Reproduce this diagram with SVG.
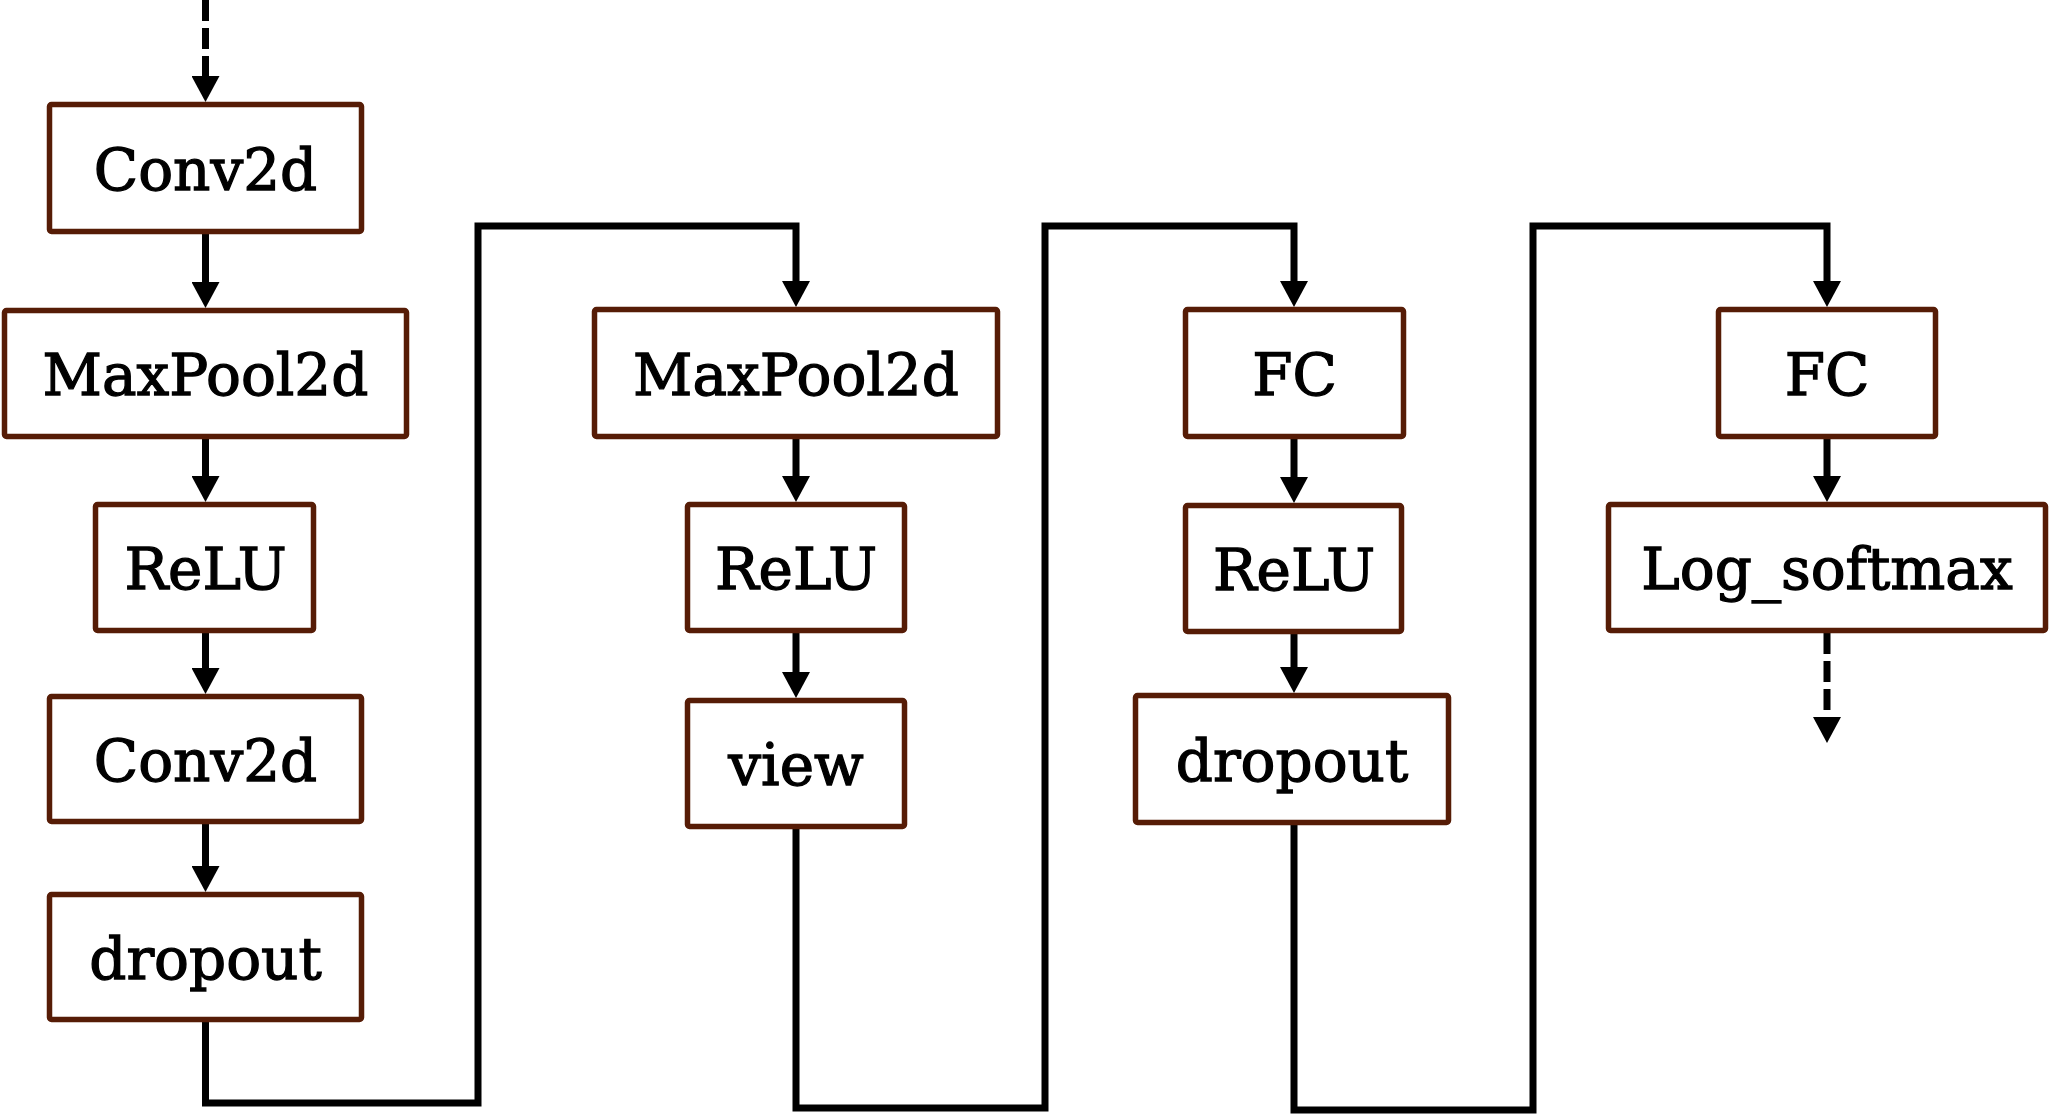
<svg xmlns="http://www.w3.org/2000/svg" width="2051" height="1115" viewBox="0 0 2051 1115">
  <style>
    .box { fill: #ffffff; stroke: #561c06; stroke-width: 5.5; }
    .lbl { font-family: "DejaVu Serif", "Liberation Serif", serif; font-size: 58px; fill: #000000; stroke: #000000; stroke-width: 1.3; text-anchor: middle; }
    .conn { fill: none; stroke: #000000; stroke-width: 7; stroke-linejoin: miter; }
    .dash { stroke-dasharray: 21 7; }
  </style>
  <defs>
    <marker id="arrow" viewBox="0 0 26 28" refX="0" refY="14" markerWidth="26" markerHeight="28" markerUnits="userSpaceOnUse" orient="auto">
      <path d="M0,0 L26,14 L0,28 Z" fill="#000000"/>
    </marker>
  </defs>
  <rect x="0" y="0" width="2051" height="1115" fill="#ffffff"/>

  <g id="connectors">
    <path class="conn dash" d="M205.5,0 V76" marker-end="url(#arrow)"/>
    <path class="conn" d="M205.5,234 V282" marker-end="url(#arrow)"/>
    <path class="conn" d="M205.5,439 V476" marker-end="url(#arrow)"/>
    <path class="conn" d="M205.5,633 V668" marker-end="url(#arrow)"/>
    <path class="conn" d="M205.5,824 V866" marker-end="url(#arrow)"/>
    <path class="conn" d="M205.5,1022 V1103 H478 V226 H796 V281" marker-end="url(#arrow)"/>
    <path class="conn" d="M796,439 V476" marker-end="url(#arrow)"/>
    <path class="conn" d="M796,633 V672" marker-end="url(#arrow)"/>
    <path class="conn" d="M796,829 V1108 H1045 V226 H1294 V281" marker-end="url(#arrow)"/>
    <path class="conn" d="M1294,439 V477" marker-end="url(#arrow)"/>
    <path class="conn" d="M1294,634 V667" marker-end="url(#arrow)"/>
    <path class="conn" d="M1294,825 V1110 H1533 V226 H1827 V281" marker-end="url(#arrow)"/>
    <path class="conn" d="M1827,439 V476" marker-end="url(#arrow)"/>
    <path class="conn dash" d="M1827,633 V717" marker-end="url(#arrow)"/>
  </g>

  <g id="conv2d-1">
    <rect class="box" x="49.5" y="104.5" width="312" height="127" rx="2"/>
    <text class="lbl" x="205.5" y="190">Conv2d</text>
  </g>
  <g id="maxpool2d-1">
    <rect class="box" x="4.5" y="310.5" width="402" height="126" rx="2"/>
    <text class="lbl" x="205.5" y="395">MaxPool2d</text>
  </g>
  <g id="relu-1">
    <rect class="box" x="95.5" y="504.5" width="218" height="126" rx="2"/>
    <text class="lbl" x="205.5" y="589">ReLU</text>
  </g>
  <g id="conv2d-2">
    <rect class="box" x="49.5" y="696.5" width="312" height="125" rx="2"/>
    <text class="lbl" x="205.5" y="781">Conv2d</text>
  </g>
  <g id="dropout-1">
    <rect class="box" x="49.5" y="894.5" width="312" height="125" rx="2"/>
    <text class="lbl" x="205.5" y="979">dropout</text>
  </g>

  <g id="maxpool2d-2">
    <rect class="box" x="594.5" y="309.5" width="403" height="127" rx="2"/>
    <text class="lbl" x="796" y="395">MaxPool2d</text>
  </g>
  <g id="relu-2">
    <rect class="box" x="687.5" y="504.5" width="217" height="126" rx="2"/>
    <text class="lbl" x="796" y="589">ReLU</text>
  </g>
  <g id="view">
    <rect class="box" x="687.5" y="700.5" width="217" height="126" rx="2"/>
    <text class="lbl" x="796" y="785">view</text>
  </g>

  <g id="fc-1">
    <rect class="box" x="1185.5" y="309.5" width="218" height="127" rx="2"/>
    <text class="lbl" x="1294.5" y="395">FC</text>
  </g>
  <g id="relu-3">
    <rect class="box" x="1185.5" y="505.5" width="216" height="126" rx="2"/>
    <text class="lbl" x="1294" y="590">ReLU</text>
  </g>
  <g id="dropout-2">
    <rect class="box" x="1135.5" y="695.5" width="313" height="127" rx="2"/>
    <text class="lbl" x="1292" y="781">dropout</text>
  </g>

  <g id="fc-2">
    <rect class="box" x="1718.5" y="309.5" width="217" height="127" rx="2"/>
    <text class="lbl" x="1827" y="395">FC</text>
  </g>
  <g id="log-softmax">
    <rect class="box" x="1608.5" y="504.5" width="437" height="126" rx="2"/>
    <text class="lbl" x="1827" y="589">Log_softmax</text>
  </g>
</svg>
